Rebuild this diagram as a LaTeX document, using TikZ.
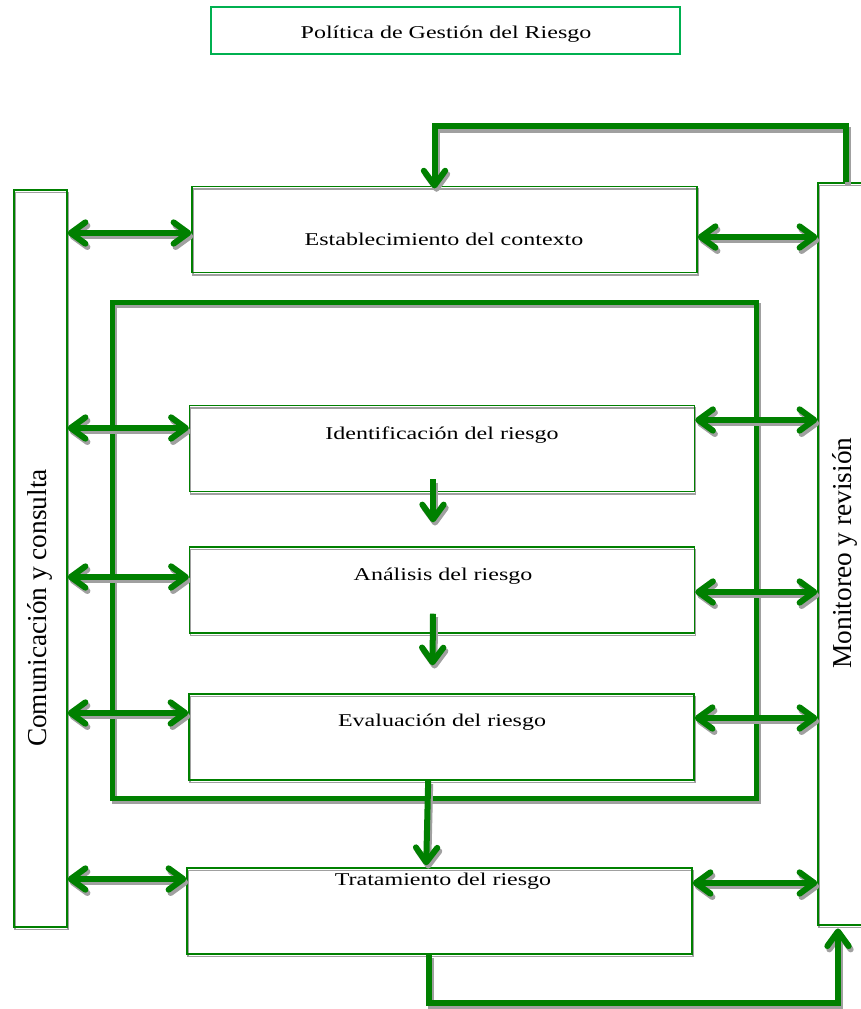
\documentclass[tikz,border=0pt]{standalone}
\usepackage{fontspec}
\setmainfont{Liberation Serif}
\usepackage{graphicx}
\usetikzlibrary{arrows.meta}

\definecolor{flowgreen}{RGB}{0,128,0}
\definecolor{titlegreen}{RGB}{0,176,80}
\definecolor{shadowgray}{RGB}{160,160,160}

% text of the horizontal boxes is squeezed in height
\newcommand{\squashed}[1]{\scalebox{1}[0.75]{#1}}

\tikzset{
  boxshadow/.style={preaction={draw=shadowgray, transform canvas={shift={(0.75pt,-2pt)}}}},
  lineshadow/.style={preaction={draw=shadowgray, line width=#1, transform canvas={shift={(1.5pt,-2.5pt)}}}},
  titlebox/.style={draw=titlegreen, line width=1pt, minimum width=351.75pt, minimum height=35.25pt, inner sep=0pt},
  stage/.style={draw=flowgreen, line width=1.1pt, minimum width=378.75pt, minimum height=64.5pt, inner sep=0pt, boxshadow},
  sidebox/.style={draw=flowgreen, line width=1.1pt, inner sep=0pt, boxshadow},
  lbl/.style={font=\fontsize{18}{20}\selectfont, inner sep=0pt, anchor=base},
  sidetext/.style={font=\fontsize{20.5}{24}\selectfont, inner sep=0pt, rotate=90},
  flow/.style={lineshadow=4.5pt, draw=flowgreen, line width=4.5pt},
  frame/.style={lineshadow=3.75pt, draw=flowgreen, line width=3.75pt},
  >={Straight Barb[length=11pt,width=16pt,round]},
}

\begin{document}
\begin{tikzpicture}[x=0.75pt,y=-0.75pt]
  \useasboundingbox (0,0) rectangle (860,1009);

  \node[titlebox] (pol) at (445.5,30.5) {};
  \node[lbl] (poltxt) at (446,39) {\squashed{Política de Gestión del Riesgo}};

  % side columns
  \node[sidebox, minimum width=39.75pt, minimum height=552.75pt] (com) at (40.5,558.5) {};
  \node[sidebox, minimum width=36pt, minimum height=556.5pt] (mon) at (842,554) {};
  \node[sidetext] (comtxt) at (40,608) {Comunicación y consulta};
  \node[sidetext] (montxt) at (845,553) {Monitoreo y revisión};

  % stages
  \node[stage] (ctx) at (444.5,229.5) {};
  \node[stage] (idr) at (442,448.5) {};
  \node[stage] (anr) at (442,590) {};
  \node[stage] (evr) at (441.5,737) {};
  \node[stage] (trr) at (439.5,911) {};

  \node[lbl] (ctxtxt) at (444,246) {\squashed{Establecimiento del contexto}};
  \node[lbl] (idrtxt) at (442,439) {\squashed{Identificación del riesgo}};
  \node[lbl] (anrtxt) at (443,580) {\squashed{Análisis del riesgo}};
  \node[lbl] (evrtxt) at (442,726) {\squashed{Evaluación del riesgo}};
  \node[lbl] (trrtxt) at (443,885) {\squashed{Tratamiento del riesgo}};

  % assessment frame
  \draw[frame] (112,302) rectangle (756,798);

  % links to the side columns
  \foreach \n/\yl/\yr in {ctx/233/237, idr/428/420, anr/577/592, evr/713/718, trr/879/883} {
    \path (0,\yl) coordinate (lft) (0,\yr) coordinate (rgt);
    \draw[flow,<->] (com.east |- lft) -- (\n.west |- lft);
    \draw[flow,<->] (\n.east |- rgt) -- (mon.west |- rgt);
  }

  % steps
  \draw[flow,->] ([xshift=-6.75pt,yshift=9.75pt]idr.south) -- ([xshift=-6.75pt,yshift=18pt]anr.north);
  \draw[flow,->] ([xshift=-6.75pt,yshift=15pt]anr.south) -- ([xshift=-6.75pt,yshift=21pt]evr.north);
  \draw[flow,->] ([xshift=-10pt]evr.south) -- ([xshift=-10pt,yshift=1.5pt]trr.north);

  % feedback loops
  \draw[flow,->] ([xshift=3pt]mon.north) -- ++(0,-56) -| ([xshift=-7.5pt,yshift=-2pt]ctx.north);
  \draw[flow,->] ([xshift=-8pt]trr.south) -- ++(0,48) -| ([xshift=-3pt,yshift=-2pt]mon.south);
\end{tikzpicture}
\end{document}
